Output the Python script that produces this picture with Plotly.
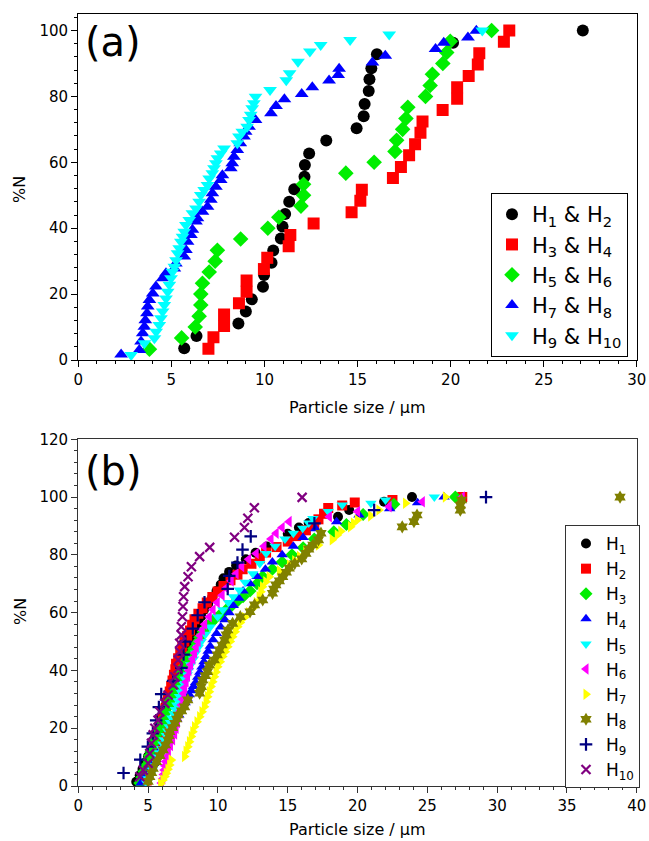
import plotly.graph_objects as go

# ---------------- panel (a): paired samples ----------------
a_labels = ["H<sub>1</sub> &amp; H<sub>2</sub>", "H<sub>3</sub> &amp; H<sub>4</sub>",
            "H<sub>5</sub> &amp; H<sub>6</sub>", "H<sub>7</sub> &amp; H<sub>8</sub>",
            "H<sub>9</sub> &amp; H<sub>10</sub>"]

a_h12_x = [5.69, 6.35, 8.6, 9.0, 9.32, 9.92, 9.98, 10.38, 10.47, 10.88, 10.97, 11.11, 11.33, 11.6,
           12.15, 12.17, 12.4, 13.32, 14.95, 15.33, 15.38, 15.6, 15.64, 15.74, 16.04, 20.13, 27.1]
a_h12_y = [3.55, 7.28, 11.1, 14.7, 18.4, 22.2, 25.8, 29.5, 33.2, 36.9, 40.5, 44.3, 48.0, 51.8,
           55.6, 59.2, 62.7, 66.6, 70.3, 74.0, 77.7, 81.6, 85.2, 88.5, 92.8, 96.3, 100]

a_h34_x = [6.99, 7.26, 7.83, 7.83, 8.63, 9.04, 9.04, 9.97, 10.15, 11.3, 11.39, 12.64, 14.68, 15.15,
           15.23, 16.9, 17.33, 17.77, 18.09, 18.38, 18.49, 19.57, 20.35, 20.35, 20.97, 21.46, 21.54,
           22.86, 23.15]
a_h34_y = [3.4, 6.9, 10.3, 13.8, 17.2, 20.7, 24.1, 27.6, 31.0, 34.5, 37.9, 41.4, 44.8, 48.3, 51.7,
           55.2, 58.6, 62.1, 65.5, 69.0, 72.4, 75.9, 79.3, 82.8, 86.2, 89.7, 93.1, 96.6, 100]

a_h56_x = [3.82, 5.55, 6.28, 6.49, 6.58, 6.58, 6.67, 7.03, 7.35, 7.47, 8.72, 10.18, 10.77, 11.96,
           12.1, 12.1, 14.37, 15.89, 17.01, 17.1, 17.42, 17.6, 17.7, 18.65, 18.9, 19.02, 19.58,
           19.79, 19.98, 22.2]
a_h56_y = [3.3, 6.7, 10.0, 13.3, 16.7, 20.0, 23.3, 26.7, 30.0, 33.3, 36.7, 40.0, 43.3, 46.7, 50.0,
           53.3, 56.7, 60.0, 63.3, 66.7, 70.0, 73.3, 76.7, 80.0, 83.3, 86.7, 90.0, 93.3, 96.7, 100]

a_h78_x = [2.30, 3.28, 3.37, 3.46, 3.55, 3.6, 3.69, 3.73, 3.82, 4.0, 4.17, 4.53, 4.71, 5.16, 5.24,
           5.69, 5.78, 5.87, 6.05, 6.13, 6.32, 6.4, 6.67, 6.94, 7.12, 7.2, 7.39, 7.65, 7.74, 8.19,
           8.27, 8.36, 8.54, 8.7, 8.9, 8.99, 9.17, 9.52, 10.35, 10.62, 11.07, 12.0, 12.57, 13.47,
           13.96, 14.01, 15.8, 16.49, 19.19, 19.63, 20.93, 21.38]
a_h78_y = [1.7, 3.0, 5.6, 8.1, 10.1, 12.1, 14.2, 16.2, 18.2, 20.2, 22.3, 24.8, 26.3, 27.8, 29.3,
           31.4, 33.4, 35.9, 37.9, 39.5, 42.0, 43.0, 45.0, 46.5, 48.6, 50.6, 52.6, 54.6, 56.1, 58.2,
           59.7, 61.7, 63.7, 65.8, 67.8, 69.3, 70.8, 72.8, 74.9, 77.1, 79.1, 80.7, 82.8, 84.8,
           86.5, 88.4, 90.3, 92.3, 94.4, 96.3, 97.9, 99.9]

a_h910_x = [2.84, 3.55, 4.09, 4.18, 4.35, 4.44, 4.53, 4.62, 4.71, 4.8, 4.89, 4.98, 5.06, 5.16, 5.25,
            5.33, 5.42, 5.51, 5.6, 5.69, 5.78, 5.96, 6.13, 6.32, 6.49, 6.58, 6.76, 6.94, 7.03, 7.2,
            7.29, 7.39, 7.47, 7.65, 7.83, 8.54, 8.63, 8.81, 9.07, 9.17, 9.26, 9.34, 9.43, 9.52,
            10.3, 11.17, 11.35, 11.8, 12.44, 13.02, 14.6, 16.7, 21.7]
a_h910_y = [1.5, 5.1, 6.6, 8.6, 10.6, 12.7, 14.7, 16.7, 18.7, 20.7, 22.8, 24.8, 26.8, 28.3, 30.3,
            32.4, 33.9, 35.9, 37.4, 38.9, 41.0, 42.5, 44.5, 46.0, 48.0, 50.1, 51.6, 53.1, 55.1,
            56.7, 58.2, 59.7, 61.2, 62.7, 64.2, 65.8, 67.8, 69.3, 70.8, 72.8, 74.4, 76.4, 77.9,
            79.9, 81.9, 84.9, 87.0, 90.5, 93.6, 95.6, 97.1, 98.8, 100]

# ---------------- panel (b): individual samples ----------------
b_labels = ["H<sub>%d</sub>" % i for i in range(1, 11)]

b_h1_x = [4.15, 4.4, 4.6, 4.8, 5.0, 5.2, 5.35, 5.5, 5.65, 5.8, 5.95, 6.1, 6.25, 6.4, 6.55, 6.7,
          6.85, 7.0, 7.15, 7.3, 7.5, 7.7, 7.9, 8.1, 8.35, 8.6, 8.8, 9.0, 9.3, 9.6, 9.9, 10.2, 10.4,
          10.8, 11.3, 12.0, 12.7, 13.5, 15.0, 15.8, 16.5, 18.6, 19.4, 21.9, 23.9]
b_h1_y = [1.5, 3.7, 5.9, 8.1, 10.3, 12.5, 14.7, 16.9, 19.1, 21.3, 23.5, 25.7, 27.9, 30.1, 32.3,
          34.5, 36.7, 38.9, 41.1, 43.3, 45.5, 47.7, 49.9, 52.1, 54.3, 56.5, 58.7, 60.9, 63.1, 65.3,
          67.5, 69.7, 71.9, 74.1, 76.3, 78.5, 80.7, 82.9, 87.3, 89.5, 91.0, 93.2, 95.5, 98.4, 100]

b_h2_x = [4.9, 5.0, 5.1, 5.2, 5.3, 5.4, 5.5, 5.6, 5.7, 5.84, 5.95, 6.05, 6.15, 6.25, 6.35, 6.43,
          6.55, 6.65, 6.75, 6.85, 6.95, 7.0, 7.15, 7.3, 7.45, 7.6, 7.8, 8.0, 8.15, 8.32, 8.6, 8.9,
          9.2, 9.6, 9.98, 10.4, 10.9, 11.4, 11.77, 12.4, 13.0, 13.45, 14.2, 15.0, 15.6, 16.3, 16.9,
          17.2, 17.6, 17.9, 18.9, 19.8, 22.5, 27.5]
b_h2_y = [1.9, 3.8, 5.8, 7.7, 9.6, 11.5, 13.5, 15.4, 17.3, 19.2, 21.2, 23.1, 25.0, 26.9, 28.8,
          30.8, 32.7, 34.6, 36.5, 38.5, 40.4, 42.3, 44.2, 46.2, 48.1, 50.0, 51.9, 53.8, 55.8, 57.7,
          59.6, 61.5, 63.5, 65.4, 67.3, 69.2, 71.2, 73.1, 75.0, 76.9, 78.8, 80.8, 82.7, 84.6, 86.5,
          88.5, 90.4, 92.3, 94.2, 96.2, 97.1, 98.1, 99.0, 100]

b_h3_x = [4.4, 4.55, 4.7, 4.85, 5.0, 5.1, 5.2, 5.3, 5.4, 5.5, 5.65, 5.8, 6.0, 6.15, 6.3, 6.45, 6.6,
          6.8, 6.95, 7.1, 7.25, 7.45, 7.6, 7.8, 8.0, 8.25, 8.5, 8.7, 8.95, 9.2, 9.5, 9.8, 10.2,
          10.6, 11.0, 11.4, 11.8, 12.3, 12.8, 13.2, 13.9, 14.6, 15.3, 16.1, 16.9, 18.3, 19.2, 20.4,
          22.6, 27.0]
b_h3_y = [1.0, 3.0, 5.0, 7.0, 9.0, 10.5, 12.0, 13.5, 15.0, 16.5, 18.0, 19.5, 21.5, 23.5, 25.5,
          27.5, 29.5, 31.5, 33.5, 35.5, 37.5, 39.5, 41.5, 43.5, 45.5, 47.5, 49.5, 51.5, 53.5, 55.0,
          56.5, 58.0, 59.5, 61.0, 62.5, 64.0, 65.5, 67.5, 70.0, 72.5, 75.0, 77.5, 80.0, 82.5, 85.5,
          88.0, 90.5, 94.0, 97.5, 100]

b_h4_x = [4.5, 4.65, 4.8, 4.95, 5.1, 5.25, 5.4, 5.55, 5.7, 5.85, 6.0, 6.15, 6.3, 6.45, 6.6, 6.75,
          6.9, 7.05, 7.2, 7.35, 7.5, 7.65, 7.8, 7.95, 8.1, 8.25, 8.4, 8.55, 8.7, 8.85, 9.0, 9.15,
          9.3, 9.45, 9.65, 9.9, 10.2, 10.5, 10.8, 11.1, 11.5, 11.8, 12.3, 12.8, 13.4, 13.9, 14.6,
          15.4, 16.1, 17.0, 18.5, 20.1, 22.3, 24.3, 26.2]
b_h4_y = [1.0, 2.0, 3.0, 4.0, 5.0, 6.4, 7.8, 9.2, 10.6, 12.0, 13.4, 14.8, 16.2, 17.6, 19.0, 20.4,
          21.8, 23.2, 24.6, 26.0, 27.4, 28.8, 30.2, 31.6, 33.0, 34.4, 35.8, 37.6, 39.4, 41.2, 43.0,
          44.8, 46.6, 48.4, 50.6, 52.8, 55.0, 57.5, 60.0, 62.5, 65.0, 67.5, 70.0, 72.5, 75.0, 77.5,
          80.0, 83.0, 86.0, 89.0, 91.5, 93.8, 96.0, 98.0, 100]

b_h5_x = [4.9, 5.0, 5.15, 5.3, 5.4, 5.55, 5.7, 5.8, 5.95, 6.05, 6.15, 6.3, 6.4, 6.5, 6.6, 6.7,
          6.85, 6.95, 7.05, 7.15, 7.25, 7.35, 7.45, 7.55, 7.65, 7.8, 7.9, 8.05, 8.25, 8.4, 8.6,
          8.8, 9.1, 9.45, 9.98, 10.35, 10.75, 11.1, 11.53, 11.95, 12.5, 13.0, 13.45, 14.1, 14.8,
          15.4, 16.07, 16.5, 16.8, 17.9, 18.9, 20.96, 22.0, 25.5]
b_h5_y = [1.0, 2.5, 4.0, 5.5, 7.0, 8.5, 10.0, 11.5, 13.0, 14.5, 16.0, 17.5, 19.0, 20.5, 22.0,
          23.5, 25.0, 26.5, 28.0, 29.5, 31.0, 32.5, 34.0, 35.5, 37.0, 38.5, 40.0, 42.0, 44.0, 46.0,
          48.0, 50.0, 52.5, 55.0, 58.6, 61.0, 63.5, 65.5, 67.8, 70.5, 73.5, 77.0, 80.5, 83.0, 85.5,
          87.5, 89.2, 91.0, 92.6, 95.0, 97.3, 97.9, 99.0, 100]

b_h6_x = [5.95, 6.05, 6.1, 6.15, 6.2, 6.25, 6.3, 6.45, 6.6, 6.75, 6.9, 7.0, 7.1, 7.2, 7.3, 7.38,
          7.46, 7.54, 7.62, 7.72, 7.82, 7.92, 8.05, 8.2, 8.32, 8.45, 8.58, 8.72, 8.88, 9.05, 9.38,
          9.65, 9.95, 10.3, 10.6, 10.95, 11.3, 11.7, 12.2, 12.74, 13.3, 13.8, 14.17, 14.6, 15.1,
          17.98, 20.0, 22.26, 24.64, 27.5]
b_h6_y = [1.0, 2.5, 4.0, 5.5, 7.0, 8.5, 10.0, 12.0, 14.0, 16.0, 18.0, 20.0, 22.0, 24.0, 26.0,
          28.0, 30.0, 32.0, 34.0, 36.0, 38.0, 40.0, 42.0, 44.0, 46.0, 48.0, 50.0, 52.0, 54.0, 56.0,
          58.6, 61.0, 63.5, 66.0, 68.5, 71.0, 73.5, 76.0, 78.5, 80.5, 83.0, 85.5, 87.5, 89.5, 91.5,
          93.2, 95.0, 96.7, 98.4, 100]

b_h7_x = [5.9, 6.06, 6.2, 6.3, 6.42, 6.54, 6.66, 7.61, 7.72, 7.84, 7.96, 8.09, 8.2, 8.32, 8.5,
          8.69, 8.86, 9.03, 9.15, 9.26, 9.38, 9.5, 9.62, 9.74, 9.86, 9.98, 10.16, 10.34, 10.52,
          10.7, 10.88, 11.05, 11.23, 11.41, 11.6, 11.9, 12.2, 12.5, 12.75, 12.95, 13.07, 13.19,
          13.43, 13.67, 14.4, 15.12, 15.5, 15.84, 16.3, 17.2, 18.19, 18.55, 18.8, 19.5, 19.7,
          19.98, 20.94, 21.53, 23.44, 26.29]
b_h7_y = [0.8, 2.1, 3.3, 4.4, 5.8, 7.3, 9.0, 10.2, 12.0, 13.6, 15.3, 17.1, 18.8, 20.5, 22.2, 24.0,
          25.7, 27.4, 29.2, 30.9, 32.6, 34.4, 36.1, 37.8, 39.5, 41.3, 43.0, 44.8, 46.5, 48.2, 50.0,
          51.7, 53.4, 55.1, 56.6, 58.3, 60.0, 61.5, 63.5, 65.5, 67.2, 69.0, 70.7, 72.4, 74.5, 76.5,
          78.0, 79.4, 81.5, 83.4, 85.2, 86.9, 88.2, 89.7, 91.0, 92.1, 93.5, 95.5, 97.9, 100]

b_h8_x = [5.0, 5.12, 5.25, 5.36, 5.6, 5.85, 6.08, 6.25, 6.43, 6.5, 6.55, 6.75, 6.91, 7.05, 7.15,
          7.4, 7.61, 7.84, 8.69, 8.81, 8.91, 9.1, 9.26, 9.38, 9.74, 9.95, 10.1, 10.3, 10.48, 10.6,
          10.71, 11.05, 11.6, 12.3, 12.62, 13.21, 13.91, 14.0, 14.15, 14.4, 14.64, 14.9, 15.11,
          15.5, 16.0, 16.3, 16.5, 16.8, 17.2, 17.38, 23.2, 24.04, 24.26, 27.36, 27.36, 27.45, 38.8]
b_h8_y = [1.6, 3.2, 4.6, 6.1, 8.4, 10.5, 12.5, 14.2, 15.9, 17.4, 18.8, 20.2, 21.7, 23.2, 24.6,
          26.0, 27.4, 29.8, 32.1, 34.4, 36.7, 38.2, 39.6, 41.9, 43.6, 45.4, 47.1, 48.8, 50.5, 52.3,
          54.0, 56.3, 58.6, 60.3, 62.7, 64.4, 66.7, 68.2, 69.6, 71.0, 72.4, 74.0, 75.4, 77.0, 78.6,
          80.5, 82.0, 83.4, 85.2, 87.5, 89.7, 91.5, 93.8, 95.5, 97.2, 99.0, 100]

b_h9_x = [3.24, 4.44, 4.98, 5.34, 5.58, 5.77, 5.94, 6.79, 7.38, 7.54, 7.67, 8.2, 8.55, 9.04, 10.7,
          10.81, 11.4, 11.76, 12.35, 16.91, 21.19, 29.2]
b_h9_y = [4.5, 9.1, 13.6, 18.2, 22.7, 27.3, 31.8, 36.4, 40.9, 45.5, 50.0, 54.5, 59.1, 63.6, 68.2,
          72.7, 77.3, 81.8, 86.4, 90.9, 95.5, 100]

b_h10_x = [4.41, 4.65, 5.0, 5.12, 5.24, 5.36, 5.48, 5.71, 5.84, 6.19, 6.43, 6.79, 6.91, 7.15, 7.15,
           7.26, 7.26, 7.38, 7.38, 7.46, 7.5, 7.54, 7.62, 7.86, 8.1, 8.69, 9.41, 11.19, 11.9,
           12.14, 12.61, 16.03]
b_h10_y = [3.2, 5.5, 7.9, 11.3, 14.8, 17.7, 20.0, 22.8, 25.7, 28.6, 31.5, 35.0, 37.8, 40.7, 43.6,
           46.5, 49.4, 52.3, 55.1, 58.6, 62.1, 65.5, 69.0, 72.4, 75.9, 79.4, 82.6, 86.1, 89.5, 92.7,
           96.3, 99.9]

# ---------------- styles ----------------
a_series = [(a_h12_x, a_h12_y, "circle", "black"),
            (a_h34_x, a_h34_y, "square", "#ff0000"),
            (a_h56_x, a_h56_y, "diamond", "#00ee00"),
            (a_h78_x, a_h78_y, "triangle-up", "#0000ff"),
            (a_h910_x, a_h910_y, "triangle-down", "#00ffff")]

b_series = [(b_h1_x, b_h1_y, "circle", "black"),
            (b_h2_x, b_h2_y, "square", "#ff0000"),
            (b_h3_x, b_h3_y, "diamond", "#00ee00"),
            (b_h4_x, b_h4_y, "triangle-up", "#0000ff"),
            (b_h5_x, b_h5_y, "triangle-down", "#00ffff"),
            (b_h6_x, b_h6_y, "triangle-left", "#ff00ff"),
            (b_h7_x, b_h7_y, "triangle-right", "#ffff00"),
            (b_h8_x, b_h8_y, "hexagram", "#808000"),
            (b_h9_x, b_h9_y, "cross-thin", "#000080"),
            (b_h10_x, b_h10_y, "x-thin", "#800080")]

FONT = "DejaVu Sans"
fig = go.Figure()

for (xs, ys, sym, col), name in zip(a_series, a_labels):
    fig.add_trace(go.Scatter(
        x=xs, y=ys, mode="markers", name=name, xaxis="x", yaxis="y", legend="legend",
        marker=dict(symbol=sym, size=12, color=col, line=dict(width=0))))

for (xs, ys, sym, col), name in zip(b_series, b_labels):
    thin = sym.endswith("-thin")
    fig.add_trace(go.Scatter(
        x=xs, y=ys, mode="markers", name=name, xaxis="x2", yaxis="y2", legend="legend2",
        marker=dict(symbol=sym, size=9 if thin else 10, color=col,
                    line=dict(width=2.2 if thin else 0, color=col))))

X_DOM = [78.3 / 649, 636.8 / 649]


def axis(rng, major, minor, dom, anchor, line_col):
    return dict(range=rng, domain=dom, anchor=anchor, dtick=major, tick0=0,
                ticks="outside", ticklen=6, tickwidth=1, tickcolor=line_col,
                minor=dict(dtick=minor, ticks="outside", ticklen=3, tickcolor=line_col),
                showline=True, linecolor=line_col, linewidth=1.3, mirror=True,
                showgrid=False, zeroline=False, automargin=False,
                tickfont=dict(family=FONT, size=15, color="black"))


fig.update_layout(
    width=649, height=841, margin=dict(l=0, r=0, t=0, b=0),
    paper_bgcolor="white", plot_bgcolor="white",
    font=dict(family=FONT, color="black"),
    xaxis=axis([0, 30], 5, 1, X_DOM, "y", "black"),
    yaxis=axis([0, 105], 20, 4, [1 - 360 / 841, 1 - 14 / 841], "x", "black"),
    xaxis2=axis([0, 40], 5, 1, X_DOM, "y2", "#333333"),
    yaxis2=axis([0, 120], 20, 4, [1 - 786 / 841, 1 - 439.3 / 841], "x2", "#333333"),
    legend=dict(x=491 / 649, y=1 - 193 / 841, xanchor="left", yanchor="top",
                bgcolor="white", bordercolor="black", borderwidth=1,
                font=dict(family=FONT, size=21, color="black"),
                itemwidth=30, tracegroupgap=0),
    legend2=dict(x=565 / 649, y=1 - 525 / 841, xanchor="left", yanchor="top",
                 bgcolor="white", bordercolor="#333333", borderwidth=1,
                 font=dict(family=FONT, size=17, color="black"),
                 itemwidth=30, tracegroupgap=0),
    showlegend=True,
)

annotations = [
    dict(text="(a)", x=83 / 649, y=1 - 17 / 841, xanchor="left", yanchor="top",
         font=dict(size=40)),
    dict(text="(b)", x=83 / 649, y=1 - 446 / 841, xanchor="left", yanchor="top",
         font=dict(size=40)),
    dict(text="Particle size / µm", x=357 / 649, y=1 - 407 / 841, xanchor="center",
         yanchor="middle", font=dict(size=16)),
    dict(text="Particle size / µm", x=357 / 649, y=1 - 829 / 841, xanchor="center",
         yanchor="middle", font=dict(size=16)),
    dict(text="%N", x=20 / 649, y=1 - 190 / 841, xanchor="center", yanchor="middle",
         textangle=-90, font=dict(size=16)),
    dict(text="%N", x=20 / 649, y=1 - 612 / 841, xanchor="center", yanchor="middle",
         textangle=-90, font=dict(size=16)),
]
for ann in annotations:
    ann.update(xref="paper", yref="paper", showarrow=False)
    ann["font"]["family"] = FONT
    ann["font"]["color"] = "black"
fig.update_layout(annotations=annotations)

fig.write_html("out.html")
